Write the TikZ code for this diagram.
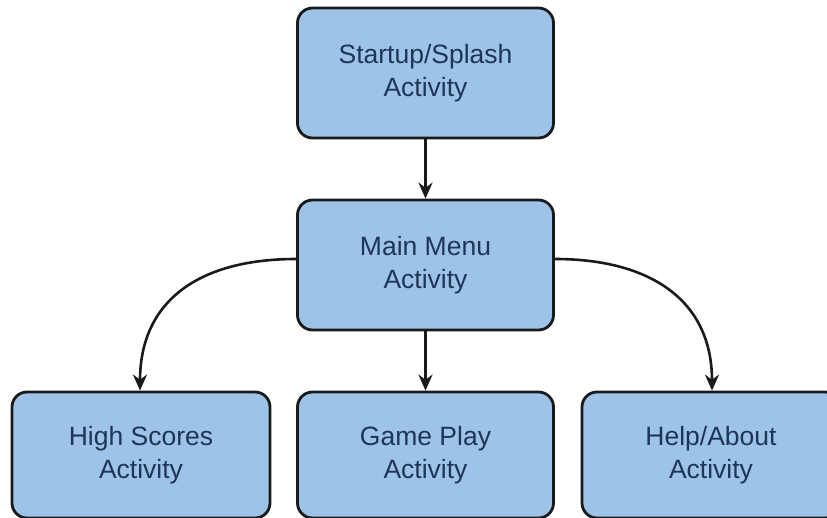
\documentclass[tikz,border=0pt]{standalone}
\usepackage{fontspec}
\setmainfont{Liberation Sans}
\usetikzlibrary{arrows.meta}
\definecolor{boxfill}{HTML}{9DC4E8}
\definecolor{boxtext}{HTML}{1F3556}
\definecolor{edge}{HTML}{1A1A1A}
\begin{document}
\begin{tikzpicture}[x=1pt,y=-1pt,
  actbox/.style={draw=edge, line width=2.8pt, fill=boxfill, rounded corners=15pt,
    text=boxtext, align=center, font=\fontsize{26.5}{33}\selectfont, inner sep=0pt},
  conn/.style={draw=edge, line width=2.6pt, -{Stealth[length=16pt,width=14pt]}}]
\useasboundingbox (0,0) rectangle (827,518);
\fill[white] (0,0) rectangle (827,518);
\node[actbox, minimum width=256pt, minimum height=130pt] (start) at (425.5,73) {Startup/Splash\\Activity};
\node[actbox, minimum width=256pt, minimum height=130pt] (main) at (425.5,265) {Main Menu\\Activity};
\node[actbox, minimum width=258pt, minimum height=126pt] (high) at (141,455) {High Scores\\Activity};
\node[actbox, minimum width=256pt, minimum height=126pt] (game) at (425.5,455) {Game Play\\Activity};
\node[actbox, minimum width=258pt, minimum height=126pt] (help) at (711,455) {Help/About\\Activity};
\draw[conn] (start.south) -- (main.north);
\draw[conn] (main.south) -- (game.north);
\draw[conn] (main.west |- 0,259) .. controls (200,259) and (140,300) .. (high.north -| 140,0);
\draw[conn] (main.east |- 0,259) .. controls (650,259) and (712,300) .. (help.north -| 712,0);
\end{tikzpicture}
\end{document}
